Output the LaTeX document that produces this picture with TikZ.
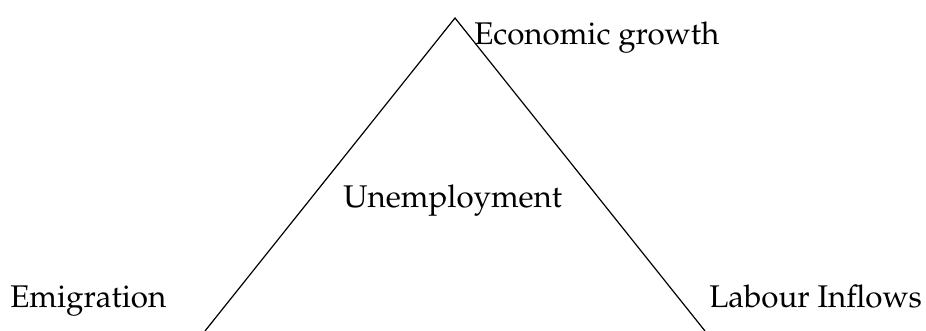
\documentclass[tikz,border=0pt]{standalone}
\usepackage[T1]{fontenc}
\usepackage{mathpazo}
\usepackage{tikz}
\usetikzlibrary{positioning}

\begin{document}
\begin{tikzpicture}[x=0.75pt,y=0.75pt,
  lbl/.style={inner sep=0pt,font=\fontsize{23.5}{28}\selectfont},
  side/.style={line width=0.9pt,draw=black}]
  \useasboundingbox (0,0) rectangle (926,331);
  \coordinate (top) at (455,313);
  \coordinate (left) at (205,0);
  \coordinate (right) at (705,0);
  \node[lbl,anchor=base west] (growth) at (474,286) {Economic growth};
  \node[lbl,anchor=base west] (unemp) at (343,123) {Unemployment};
  \node[lbl,anchor=base west] (emig) at (10,23) {Emigration};
  \node[lbl,anchor=base west] (inflow) at (709,23) {Labour Inflows};
  \draw[side] (left) -- (top) -- (right);
\end{tikzpicture}
\end{document}
